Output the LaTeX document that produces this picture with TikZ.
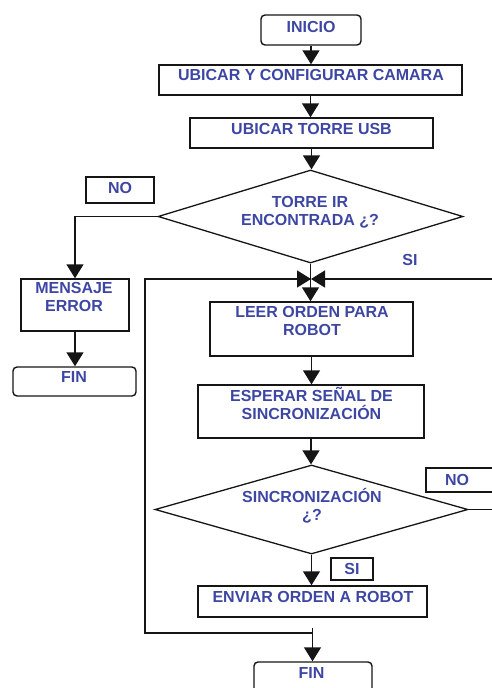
\documentclass[tikz,border=0pt]{standalone}
\usepackage{fontspec}
\setmainfont{Liberation Sans}
\usetikzlibrary{arrows.meta,shapes.geometric}
\definecolor{inkclr}{HTML}{151515}
\definecolor{txtclr}{HTML}{3D47A3}

\begin{document}
\begin{tikzpicture}[x=1pt, y=-1pt,
    box/.style={draw=inkclr, line width=1.4pt, rectangle, inner sep=0pt},
    endbox/.style={box, rounded corners=4pt},
    decbox/.style={draw=inkclr, line width=1.3pt, diamond, inner sep=0pt},
    txt/.style={font=\fontsize{16}{18}\selectfont\bfseries, text=txtclr,
                align=center, inner sep=0pt},
    arr/.style={draw=inkclr, line width=1.4pt,
                -{Triangle[width=17pt, length=14pt]}}]

\useasboundingbox (0,0) rectangle (492,688);
\clip (0,0) rectangle (492,688);

% --- main column ----------------------------------------------------------
\node[endbox, minimum width=100, minimum height=30] (ini) at (311,30) {};
\node[box, minimum width=303, minimum height=30] (cam) at (310.5,80) {};
\node[box, minimum width=243, minimum height=30] (usb) at (311.5,133) {};
\node[decbox, minimum width=305, minimum height=93] (tor) at (310.5,216.5) {};
\node[box, minimum width=203, minimum height=54] (leer) at (311.5,329) {};
\node[box, minimum width=226, minimum height=53] (esp) at (311,411.5) {};
\node[decbox, minimum width=313, minimum height=89] (sync) at (311.5,509.5) {};
\node[box, minimum width=229, minimum height=31] (env) at (312.5,601.5) {};
\node[endbox, minimum width=118, minimum height=40] (fin2) at (313,682) {};

% --- error branch ---------------------------------------------------------
\node[box, minimum width=68, minimum height=26] (no1) at (120,190) {};
\node[box, minimum width=108, minimum height=52] (err) at (75,305) {};
\node[endbox, minimum width=123, minimum height=29] (fin1) at (74.5,381.5) {};

% --- answer tags ----------------------------------------------------------
\node[box, minimum width=80, minimum height=24] (no2) at (466,480) {};
\node[box, minimum width=42, minimum height=22] (si2) at (352,569) {};

% --- texts ----------------------------------------------------------------
\node[txt] (ini-t) at (311,27) {INICIO};
\node[txt] (cam-t) at (311,75) {UBICAR Y CONFIGURAR CAMARA};
\node[txt] (usb-t) at (311.5,129) {UBICAR TORRE USB};
\node[txt] (tor-t) at (310,212.5) {TORRE IR\\ENCONTRADA ¿?};
\node[txt] (no1-t) at (120,188) {NO};
\node[txt] (si1-t) at (410,260) {SI};
\node[txt] (err-t) at (74,297) {MENSAJE\\ERROR};
\node[txt] (fin1-t) at (74,377) {FIN};
\node[txt] (leer-t) at (312,321) {LEER ORDEN PARA\\ROBOT};
\node[txt] (esp-t) at (311.5,403.5) {ESPERAR SEÑAL DE\\SINCRONIZACIÓN};
\node[txt] (sync-t) at (312,506) {SINCRONIZACIÓN\\¿?};
\node[txt] (no2-t) at (457,480) {NO};
\node[txt] (si2-t) at (352,569) {SI};
\node[txt] (env-t) at (313,596.5) {ENVIAR ORDEN A ROBOT};
\node[txt] (fin2-t) at (311.5,673) {FIN};

% --- straight flow --------------------------------------------------------
\foreach \a/\b in {ini/cam, cam/usb, usb/tor, tor/leer, leer/esp,
                   esp/sync, sync/env, err/fin1}
  \draw[arr] (\a.south) -- (\a.south |- \b.north);

\draw[arr] (tor.west) -| (err.north);

% --- loop back to the reading step ----------------------------------------
\coordinate (mrg) at (311,279);
\coordinate (jn) at ([yshift=-10pt]env.south);
\coordinate (lpa) at (145,633);
\coordinate (rgt) at (500,279);
\draw[arr] (jn) -- (jn |- fin2.north);
\draw[arr] (jn |- lpa) -- (lpa) |- (mrg);
\draw[arr] (sync.east) -- (sync.east -| rgt) -- (rgt) -- (mrg);

\end{tikzpicture}
\end{document}
